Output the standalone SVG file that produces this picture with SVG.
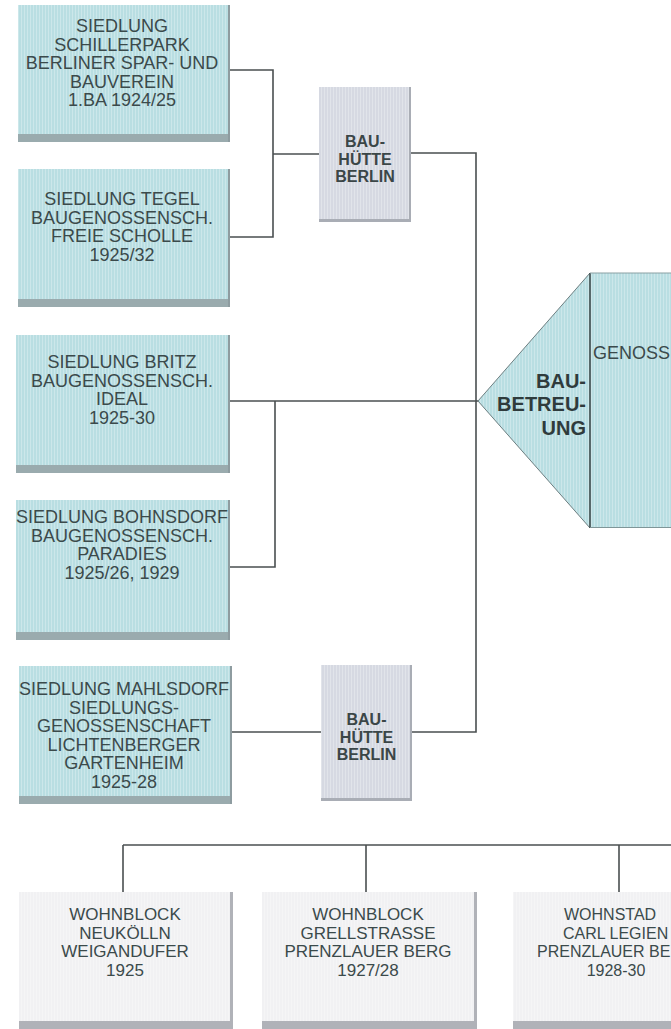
<svg xmlns="http://www.w3.org/2000/svg" width="671" height="1029" viewBox="0 0 671 1029">
  <defs>
    <pattern id="stripes" width="3" height="10" patternUnits="userSpaceOnUse">
      <rect x="0" y="0" width="1" height="10" fill="#ffffff" fill-opacity="0.28"/>
    </pattern>
    <style>
      .blue { fill: #b9dee2; }
      .grey { fill: #d6d9e2; }
      .white { fill: #f1f1f3; }
      .str { fill: url(#stripes); }
      .band { fill: #9aabae; }
      .bandg { fill: #a9adb5; }
      .edge { fill: #8e9ca0; }
      .edgew { fill: #b0b2b8; }
      .t { font-family: "Liberation Sans", Arial, sans-serif; font-size: 18px; fill: #3b4a4b; text-anchor: middle; }
      .tw { font-family: "Liberation Sans", Arial, sans-serif; font-size: 17px; fill: #3b4a4b; text-anchor: middle; }
      .tc { font-family: "Liberation Sans", Arial, sans-serif; font-size: 16px; fill: #3b4a4b; text-anchor: middle; }
      .tb { font-family: "Liberation Sans", Arial, sans-serif; font-size: 16px; font-weight: bold; fill: #3b4647; text-anchor: middle; }
      .tp { font-family: "Liberation Sans", Arial, sans-serif; font-size: 20px; font-weight: bold; fill: #2f3b3c; text-anchor: end; }
      .tg { font-family: "Liberation Sans", Arial, sans-serif; font-size: 18px; fill: #3b4a4b; }
      .ln { fill: none; stroke: #4a4f50; stroke-width: 1.6; }
    </style>
  </defs>
  <rect width="671" height="1029" fill="#ffffff"/>

  <g id="connectors" class="ln">
    <polyline points="230,70 273,70 273,237 230,237"/>
    <line x1="273" y1="154" x2="319" y2="154"/>
    <polyline points="411,153 476,153 476,732 412,732"/>
    <line x1="232" y1="732" x2="321" y2="732"/>
    <line x1="230" y1="401" x2="478" y2="401"/>
    <polyline points="275,401 275,567 230,567"/>
    <line x1="123" y1="845" x2="671" y2="845"/>
    <line x1="123" y1="845" x2="123" y2="892"/>
    <line x1="366" y1="845" x2="366" y2="892"/>
    <line x1="619" y1="845" x2="619" y2="892"/>
  </g>

  <g id="schillerpark">
    <rect x="18" y="5" width="212" height="137" class="blue"/>
    <rect x="18" y="5" width="212" height="137" class="str"/>
    <rect x="18" y="134" width="212" height="8" class="band"/>
    <rect x="228" y="5" width="2" height="137" class="edge"/>
    <text class="t"><tspan x="122" y="32">SIEDLUNG</tspan><tspan x="122" y="50.5">SCHILLERPARK</tspan><tspan x="122" y="69">BERLINER SPAR- UND</tspan><tspan x="122" y="87.5">BAUVEREIN</tspan><tspan x="122" y="106">1.BA 1924/25</tspan></text>
  </g>

  <g id="tegel">
    <rect x="18" y="169" width="212" height="138" class="blue"/>
    <rect x="18" y="169" width="212" height="138" class="str"/>
    <rect x="18" y="299" width="212" height="8" class="band"/>
    <rect x="228" y="169" width="2" height="138" class="edge"/>
    <text class="t"><tspan x="122" y="205">SIEDLUNG TEGEL</tspan><tspan x="122" y="223.5">BAUGENOSSENSCH.</tspan><tspan x="122" y="242">FREIE SCHOLLE</tspan><tspan x="122" y="260.5">1925/32</tspan></text>
  </g>

  <g id="britz">
    <rect x="16" y="335" width="214" height="138" class="blue"/>
    <rect x="16" y="335" width="214" height="138" class="str"/>
    <rect x="16" y="465" width="214" height="8" class="band"/>
    <rect x="228" y="335" width="2" height="138" class="edge"/>
    <text class="t"><tspan x="122" y="368">SIEDLUNG BRITZ</tspan><tspan x="122" y="386.5">BAUGENOSSENSCH.</tspan><tspan x="122" y="405">IDEAL</tspan><tspan x="122" y="423.5">1925-30</tspan></text>
  </g>

  <g id="bohnsdorf">
    <rect x="16" y="500" width="214" height="140" class="blue"/>
    <rect x="16" y="500" width="214" height="140" class="str"/>
    <rect x="16" y="632" width="214" height="8" class="band"/>
    <rect x="228" y="500" width="2" height="140" class="edge"/>
    <text class="t"><tspan x="122" y="523">SIEDLUNG BOHNSDORF</tspan><tspan x="122" y="541.5">BAUGENOSSENSCH.</tspan><tspan x="122" y="560">PARADIES</tspan><tspan x="122" y="578.5">1925/26, 1929</tspan></text>
  </g>

  <g id="mahlsdorf">
    <rect x="19" y="666" width="213" height="138" class="blue"/>
    <rect x="19" y="666" width="213" height="138" class="str"/>
    <rect x="19" y="796" width="213" height="8" class="band"/>
    <rect x="230" y="666" width="2" height="138" class="edge"/>
    <text class="t"><tspan x="124" y="695">SIEDLUNG MAHLSDORF</tspan><tspan x="124" y="713.5">SIEDLUNGS-</tspan><tspan x="124" y="732">GENOSSENSCHAFT</tspan><tspan x="124" y="750.5">LICHTENBERGER</tspan><tspan x="124" y="769">GARTENHEIM</tspan><tspan x="124" y="787.5">1925-28</tspan></text>
  </g>

  <g id="bauhuette1">
    <rect x="319" y="87" width="92" height="135" class="grey"/>
    <rect x="319" y="87" width="92" height="135" class="str"/>
    <rect x="319" y="219" width="92" height="3" class="bandg"/>
    <rect x="409" y="87" width="2" height="135" class="bandg"/>
    <text class="tb"><tspan x="365" y="147">BAU-</tspan><tspan x="365" y="164.5">HÜTTE</tspan><tspan x="365" y="182">BERLIN</tspan></text>
  </g>

  <g id="bauhuette2">
    <rect x="321" y="665" width="91" height="136" class="grey"/>
    <rect x="321" y="665" width="91" height="136" class="str"/>
    <rect x="321" y="798" width="91" height="3" class="bandg"/>
    <rect x="410" y="665" width="2" height="136" class="bandg"/>
    <text class="tb"><tspan x="366.5" y="725">BAU-</tspan><tspan x="366.5" y="742.5">HÜTTE</tspan><tspan x="366.5" y="760">BERLIN</tspan></text>
  </g>

  <g id="baubetreuung">
    <polygon points="478,401 590,273 671,273 671,528 590,528" class="blue"/>
    <polygon points="478,401 590,273 671,273 671,528 590,528" class="str"/>
    <polyline points="590,273 478,401 590,528" fill="none" stroke="#6d7e80" stroke-width="1"/>
    <line x1="590" y1="273" x2="590" y2="528" stroke="#3f4c4d" stroke-width="1.6"/>
    <line x1="590" y1="273" x2="671" y2="273" stroke="#8aa0a3" stroke-width="1"/>
    <line x1="590" y1="527.5" x2="671" y2="527.5" stroke="#7f9597" stroke-width="1.2"/>
    <text class="tp"><tspan x="586" y="388">BAU-</tspan><tspan x="586" y="411">BETREU-</tspan><tspan x="586" y="435">UNG</tspan></text>
    <text class="tg" x="593" y="359">GENOSS</text>
  </g>

  <g id="neukoelln">
    <rect x="19" y="892" width="214" height="137" class="white"/>
    <rect x="19" y="892" width="214" height="137" class="str"/>
    <rect x="19" y="1021" width="214" height="8" class="edgew"/>
    <rect x="230" y="892" width="3" height="137" class="edgew"/>
    <text class="tw"><tspan x="125" y="920">WOHNBLOCK</tspan><tspan x="125" y="938.5">NEUKÖLLN</tspan><tspan x="125" y="957">WEIGANDUFER</tspan><tspan x="125" y="975.5">1925</tspan></text>
  </g>

  <g id="grellstrasse">
    <rect x="262" y="892" width="215" height="137" class="white"/>
    <rect x="262" y="892" width="215" height="137" class="str"/>
    <rect x="262" y="1021" width="215" height="8" class="edgew"/>
    <rect x="474" y="892" width="3" height="137" class="edgew"/>
    <text class="tw"><tspan x="368" y="920">WOHNBLOCK</tspan><tspan x="368" y="938.5">GRELLSTRASSE</tspan><tspan x="368" y="957">PRENZLAUER BERG</tspan><tspan x="368" y="975.5">1927/28</tspan></text>
  </g>

  <g id="carllegien">
    <rect x="513" y="892" width="214" height="137" class="white"/>
    <rect x="513" y="892" width="214" height="137" class="str"/>
    <rect x="513" y="1021" width="214" height="8" class="edgew"/>
    <text class="tc" style="text-anchor:start"><tspan x="564" y="920">WOHNSTAD</tspan><tspan x="563" y="938.5">CARL LEGIEN</tspan><tspan x="537" y="957">PRENZLAUER BE</tspan></text>
    <text class="tc"><tspan x="616" y="975.5">1928-30</tspan></text>
  </g>
</svg>
